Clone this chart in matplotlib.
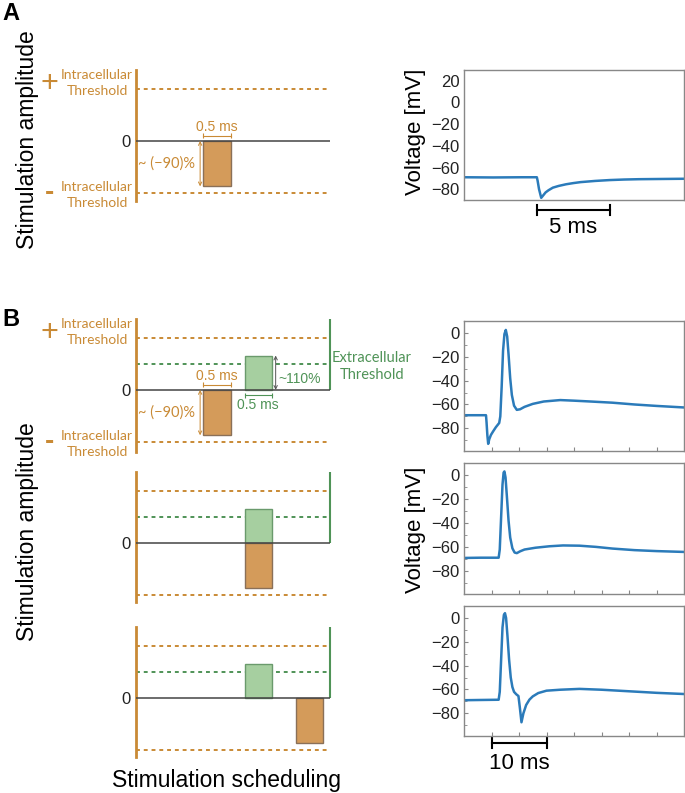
import matplotlib.pyplot as plt

# ---- stimulus schematic (amplitudes relative to the intracellular threshold) ----
intra_thr = 1.0
extra_thr = 0.5
cathodic_amp = -0.87
anodic_amp = 0.66
pulse_dur = 0.5
sched_end = 3.57
# pulse onsets for panels A, B1, B2, B3
intra_onsets = [1.24, 1.24, 2.0, 2.94]
extra_onsets = [None, 2.0, 2.0, 2.0]

# ---- recorded membrane voltage ----
tA = [0, 2, 4, 5.0, 5.05, 5.15, 5.3, 5.45, 5.6, 5.8, 6.1, 6.5, 7.0, 7.5, 8.0, 9.0, 10.0, 11.0, 12.0, 13.5, 15.1]
vA = [-69, -69.2, -69, -69, -72, -80, -88, -85.5, -83, -81, -78.6, -77, -75.5, -74.4, -73.5, -72.4, -71.6, -71.1, -70.8, -70.6, -70.4]

tB1 = [0, 2, 4.0, 4.1, 4.25, 4.4, 4.6, 4.9, 5.3, 5.8, 6.4, 6.6, 6.85, 7.1, 7.35, 7.6, 7.85, 8.1, 8.4, 8.7,
       9.1, 9.6, 10.2, 11, 12.5, 14.5, 17.5, 20, 23, 27, 31, 35, 40]
vB1 = [-69, -69, -69, -75, -86, -93, -89, -85.5, -82.5, -79, -75.5, -70, -45, -15, -1, 2.5, -3, -18, -38, -52,
       -61, -64.5, -64, -62, -59.5, -57.5, -56.3, -56.8, -57.5, -58.5, -60, -61.2, -62.5]

tB2 = [0, 3, 6.3, 6.5, 6.75, 7.0, 7.2, 7.35, 7.55, 7.8, 8.1, 8.4, 8.8, 9.2, 9.6, 10.2, 11, 13, 15.5, 18,
       21, 24, 27, 31, 35, 40]
vB2 = [-69, -68.8, -68.8, -62, -35, -8, 2, 3, -2, -18, -38, -52, -61, -64.5, -65, -63.5, -62, -60.5, -59.3, -58.6,
       -58.8, -59.8, -61.2, -62.5, -63.3, -64]

tB3 = [0, 3, 6.3, 6.5, 6.75, 7.0, 7.25, 7.45, 7.65, 7.9, 8.2, 8.5, 8.8, 9.1, 9.5, 9.9, 10.15, 10.45, 10.8, 11.3,
       11.9, 12.5, 13.5, 15, 17.5, 21, 25, 30, 35, 40]
vB3 = [-69, -68.8, -68.6, -62, -35, -8, 2.5, 4, 0, -15, -35, -50, -58, -62, -64, -65.5, -75, -87.5, -80, -73,
       -68.5, -65.8, -63, -61, -60.2, -59.5, -60.2, -61.5, -62.8, -63.8]

yticks_A = [20, 0, -20, -40, -60, -80]
yticks_B = [0, -20, -40, -60, -80]

# colours
orange = '#c98a35'
orange_fill = '#d49b5a'
orange_edge = '#8a7058'
green = '#4f9357'
green_fill = '#a6cfa0'
green_edge = '#6a9a6c'
trace_col = '#2b7bba'

small_font = 'Lato'
main_font = 'Liberation Sans'
plt.rcParams['font.family'] = [main_font, 'DejaVu Sans']

W, H = 685, 793
fig = plt.figure(figsize=(W / 100, H / 100), dpi=100)


def px_box(x0, y0, x1, y1):
    # pixel box -> figure fraction rectangle
    return [x0 / W, 1 - y1 / H, (x1 - x0) / W, (y1 - y0) / H]


def draw_schedule(box, ylo, yhi, intra_on, extra_on):
    ax = fig.add_axes(px_box(*box))
    ax.set_xlim(0, sched_end)
    ax.set_ylim(ylo, yhi)
    for s in ['top', 'right', 'bottom']:
        ax.spines[s].set_visible(False)
    ax.spines['left'].set_color(orange)
    ax.spines['left'].set_linewidth(2)
    ax.set_xticks([])
    ax.set_yticks([0])
    ax.set_yticklabels(['0'])
    ax.tick_params(axis='y', length=0, pad=4, labelsize=12, labelcolor='#222222')
    ax.patch.set_alpha(0)

    ax.axhline(0, color='#444444', lw=1.1, zorder=3)
    ax.axhline(intra_thr, color=orange, ls=(0, (2, 2)), lw=1.4)
    ax.axhline(-intra_thr, color=orange, ls=(0, (2, 2)), lw=1.4)
    if extra_on is not None:
        ax.axhline(extra_thr, color=green, ls=(0, (2, 2)), lw=1.4)
        ax.vlines(sched_end, 0, yhi, color=green, lw=1.5, clip_on=False)
        ax.bar(extra_on, anodic_amp, width=pulse_dur, align='edge', color=green_fill,
               edgecolor=green_edge, lw=1, zorder=2)
    ax.bar(intra_on, cathodic_amp, width=pulse_dur, align='edge', color=orange_fill,
           edgecolor=orange_edge, lw=1, zorder=2)
    return ax


def threshold_labels(ax):
    for sign, dy_txt, dy_sym, sym in [(1, 4.3, 3.6, '+'), (-1, -1.4, 0, '-')]:
        y = sign * intra_thr
        ax.annotate('Intracellular\nThreshold', xy=(0, y), xytext=(-28, dy_txt),
                    textcoords='offset points', ha='center', va='center', color=orange,
                    fontsize=10, family=small_font, linespacing=1.35, annotation_clip=False)
        ax.annotate(sym, xy=(0, y), xytext=(-62, dy_sym), textcoords='offset points',
                    ha='center', va='center', color=orange, fontsize=22 if sym == '+' else 20,
                    fontweight='bold' if sym == '-' else 'normal', annotation_clip=False)


def bracket(ax, on, y, col):
    ax.plot([on, on + pulse_dur], [y, y], color=col, lw=0.8)
    ax.vlines([on, on + pulse_dur], y - 0.05, y + 0.05, color=col, lw=0.8)


def intra_notes(ax, on):
    # 0.5 ms bracket above the cathodic pulse
    bracket(ax, on, 0.1, orange)
    ax.text(on + pulse_dur / 2, 0.26, '0.5 ms', color=orange, fontsize=10, ha='center', va='center')
    xa = on - 0.06
    ax.annotate('', xy=(xa, 0), xytext=(xa, cathodic_amp),
                arrowprops=dict(arrowstyle='<->', color=orange, lw=0.7, shrinkA=0, shrinkB=0,
                                mutation_scale=6))
    ax.text(xa - 0.09, cathodic_amp / 2, '~ (\u221290)%', color=orange, fontsize=10.5,
            family=small_font, ha='right', va='center')


def extra_notes(ax, on):
    bracket(ax, on, -0.1, green)
    ax.text(on + pulse_dur / 2, -0.28, '0.5 ms', color=green, fontsize=10, ha='center', va='center')
    xa = on + pulse_dur + 0.07
    ax.annotate('', xy=(xa, 0), xytext=(xa, anodic_amp),
                arrowprops=dict(arrowstyle='<->', color='#555555', lw=0.7, shrinkA=0, shrinkB=0,
                                mutation_scale=6))
    ax.text(xa + 0.05, 0.21, '~110%', color=green, fontsize=10, ha='left', va='center')
    ax.annotate('Extracellular\nThreshold', xy=(sched_end, extra_thr), xytext=(30, -2),
                textcoords='offset points', ha='center', va='center', color=green,
                fontsize=10.5, family=small_font, linespacing=1.3, annotation_clip=False)


def draw_trace(box, t, v, ylo, yhi, yt, xmax, xt):
    ax = fig.add_axes(px_box(*box))
    ax.plot(t, v, color=trace_col, lw=1.8)
    ax.set_xlim(0, xmax)
    ax.set_ylim(ylo, yhi)
    ax.set_yticks(yt)
    ax.set_yticks([y - 10 for y in yt] + [yt[0] + 10], minor=True)
    ax.set_xticks(xt)
    ax.set_xticklabels([])
    for s in ax.spines.values():
        s.set_color('#888888')
        s.set_linewidth(1)
    ax.tick_params(direction='in', length=3, color='#888888', labelsize=12, labelcolor='#222222', pad=3)
    ax.tick_params(which='minor', direction='in', length=2, color='#888888')
    return ax


def scale_bar(ax, t0, t1, y, label, ytxt):
    tr = ax.get_xaxis_transform()
    ax.plot([t0, t1], [y, y], color='black', lw=1.5, transform=tr, clip_on=False)
    for tt in [t0, t1]:
        ax.plot([tt, tt], [y - 0.035, y + 0.035], color='black', lw=1.5, transform=tr, clip_on=False)
    ax.text((t0 + t1) / 2, ytxt, label, transform=tr, ha='center', va='center', fontsize=16)


# ---- panel A ----
axA = draw_schedule((136, 70, 330, 201), -1.15, 1.36, intra_onsets[0], extra_onsets[0])
threshold_labels(axA)
intra_notes(axA, intra_onsets[0])

axA2 = draw_trace((464, 70, 684, 200), tA, vA, -90, 20, yticks_A, 15.1, [])
axA2.tick_params(axis='y', length=0)
axA2.set_yticks([], minor=True)
scale_bar(axA2, 5, 10, -0.077, '5 ms', -0.21)
fig.text(415 / W, 1 - 132 / H, 'Voltage [mV]', rotation=90, ha='center', va='center', fontsize=16)
fig.text(28 / W, 1 - 140 / H, 'Stimulation amplitude', rotation=90, ha='center', va='center', fontsize=16.5)

# ---- panel B ----
axB1 = draw_schedule((136, 319, 330, 452), -1.19, 1.36, intra_onsets[1], extra_onsets[1])
threshold_labels(axB1)
intra_notes(axB1, intra_onsets[1])
extra_notes(axB1, extra_onsets[1])
draw_schedule((136, 472, 330, 602), -1.13, 1.37, intra_onsets[2], extra_onsets[2])
draw_schedule((136, 627, 330, 757), -1.13, 1.37, intra_onsets[3], extra_onsets[3])

xt_B = [5, 10, 15, 20, 25, 30, 35]
draw_trace((464, 321, 684, 451), tB1, vB1, -99, 10, yticks_B, 40, xt_B)
draw_trace((464, 463, 684, 594), tB2, vB2, -99, 10, yticks_B, 40, xt_B)
axB3 = draw_trace((464, 606, 684, 736), tB3, vB3, -99, 10, yticks_B, 40, xt_B)
scale_bar(axB3, 5, 15, -0.054, '10 ms', -0.21)
fig.text(415 / W, 1 - 530 / H, 'Voltage [mV]', rotation=90, ha='center', va='center', fontsize=16)
fig.text(28 / W, 1 - 532 / H, 'Stimulation amplitude', rotation=90, ha='center', va='center', fontsize=16.5)
fig.text(227 / W, 1 - 781 / H, 'Stimulation scheduling', ha='center', va='center', fontsize=16.5)

fig.text(2 / W, 1 - 14 / H, 'A', fontsize=17, fontweight='bold', ha='left', va='center')
fig.text(2 / W, 1 - 319 / H, 'B', fontsize=17, fontweight='bold', ha='left', va='center')

fig.savefig('out.png', dpi=100)
